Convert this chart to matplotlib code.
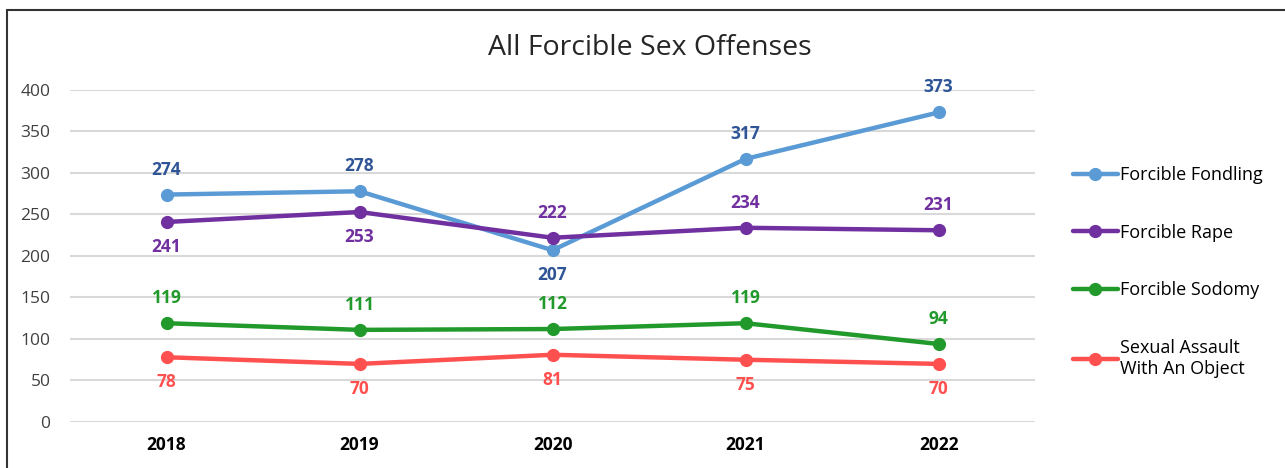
import numpy as np
import matplotlib.pyplot as plt
from matplotlib.patches import Rectangle

plt.rcParams['font.family'] = ['Open Sans', 'DejaVu Sans']

years = ['2018', '2019', '2020', '2021', '2022']
fondling = [274, 278, 207, 317, 373]
rape = [241, 253, 222, 234, 231]
sodomy = [119, 111, 112, 119, 94]
assault = [78, 70, 81, 75, 70]

series = [
    # name, values, line colour, label colour, label side per point (1 above, -1 below)
    ('Forcible Fondling', fondling, '#5B9BD5', '#2F5597', [1, 1, -1, 1, 1]),
    ('Forcible Rape', rape, '#7030A0', '#7030A0', [-1, -1, 1, 1, 1]),
    ('Forcible Sodomy', sodomy, '#21992B', '#21992B', [1, 1, 1, 1, 1]),
    ('Sexual Assault\nWith An Object', assault, '#FF5050', '#FF5050', [-1, -1, -1, -1, -1]),
]

fig = plt.figure(figsize=(12.85, 4.68), dpi=100)
ax = fig.add_axes([0.0545, 0.0983, 0.751, 0.7094])

x = np.arange(len(years))
for name, vals, col, lcol, side in series:
    ax.plot(x, vals, color=col, lw=3.2, marker='o', ms=8.5, label=name,
            solid_capstyle='round')
    for xi, v, s in zip(x, vals, side):
        ax.annotate(str(v), (xi, v), xytext=(0, 18 * s), textcoords='offset points',
                    ha='center', va='center', color=lcol, fontsize=12.5,
                    fontweight='bold')

ax.set_xlim(-0.5, 4.5)
ax.set_ylim(0, 400)
ax.set_yticks(np.arange(0, 401, 50))
ax.set_xticks(x)
ax.set_xticklabels(years, fontweight='bold', fontsize=12.5)
ax.tick_params(axis='y', labelsize=12.5, colors='#404040', length=0, pad=14)
ax.tick_params(axis='x', length=0, pad=10)
ax.grid(axis='y', color='#D9D9D9', lw=1.5)
ax.set_axisbelow(True)
for sp in ax.spines.values():
    sp.set_visible(False)

fig.text(0.506, 0.898, 'All Forcible Sex Offenses', ha='center', va='center',
         fontsize=20.5, color='#262626')

fig.legend(loc='upper left', bbox_to_anchor=(0.822, 0.68), frameon=False,
           fontsize=13, labelspacing=2.2, handlelength=2.5, handletextpad=0.15)

# outer chart frame (cropped on right and bottom)
fig.patches.append(Rectangle((7 / 1285, -0.2), 1.2, 1.2 - 10 / 468,
                             transform=fig.transFigure, fill=False,
                             edgecolor='#333333', lw=1.5))

fig.savefig('out.png', dpi=100)
